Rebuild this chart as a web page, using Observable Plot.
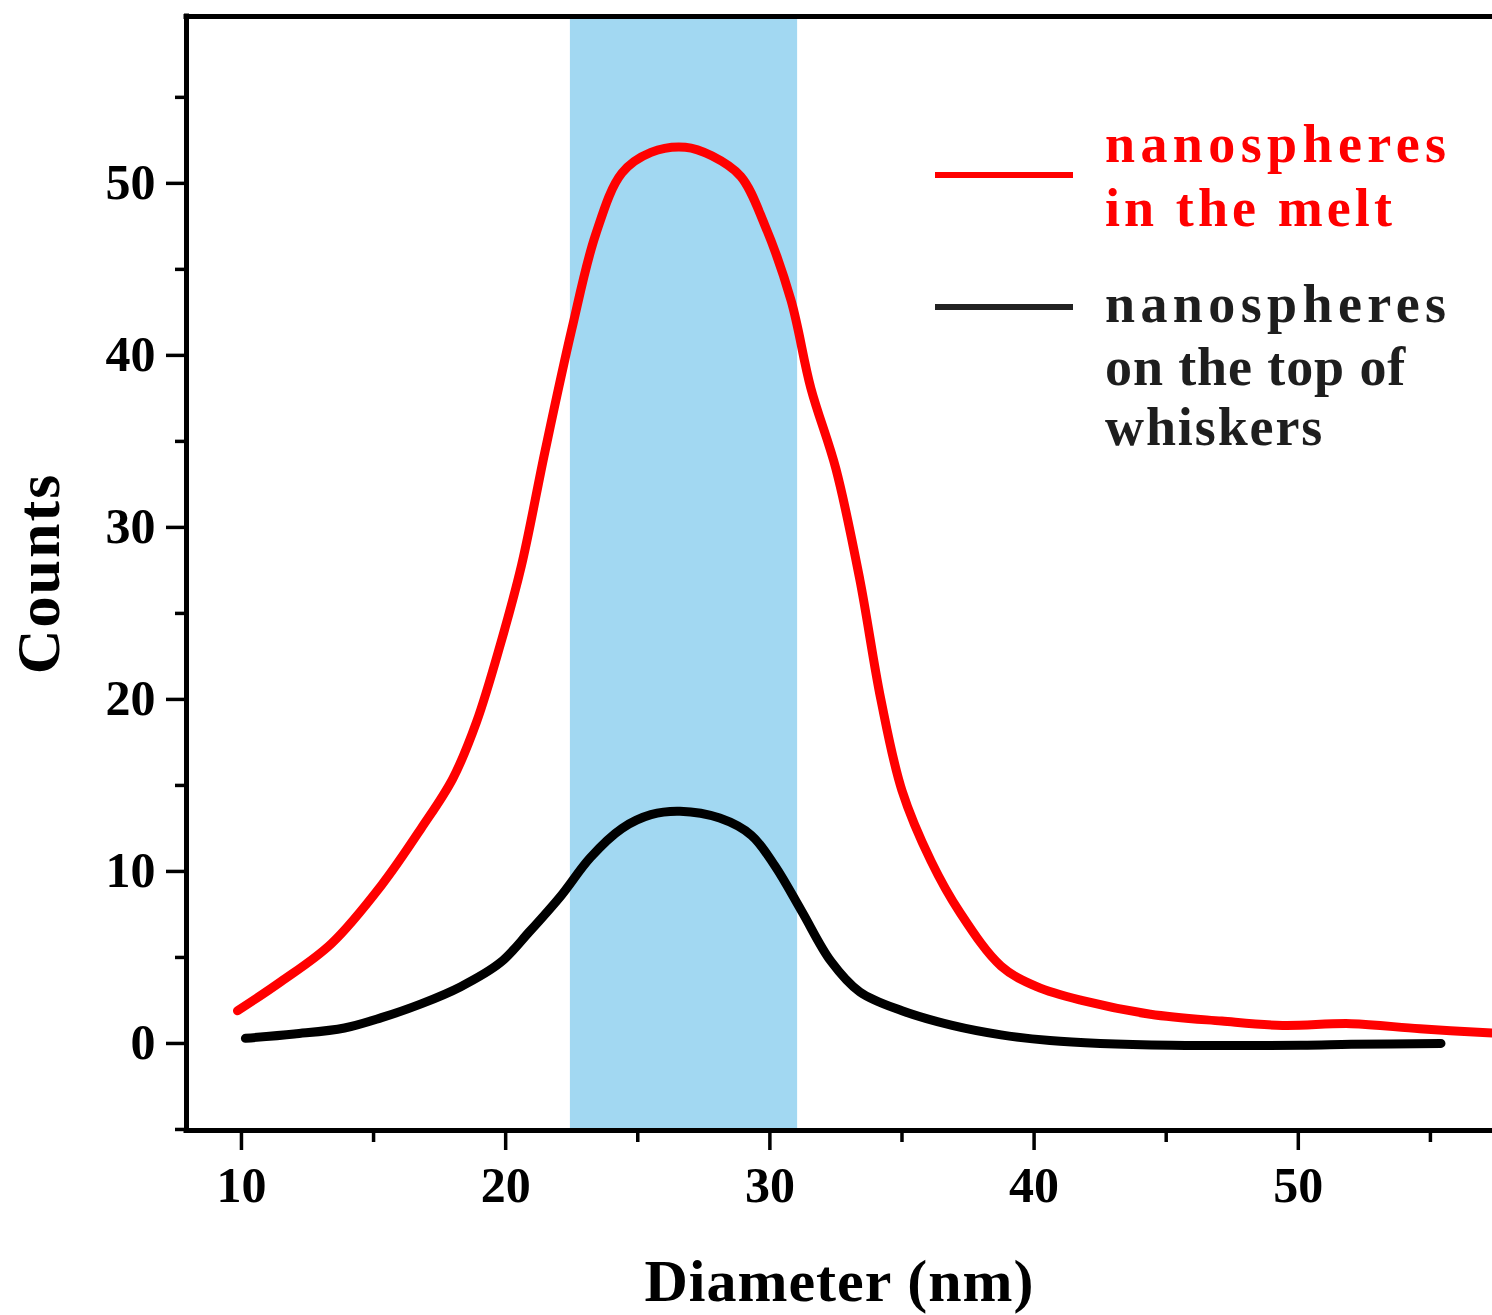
<!DOCTYPE html>
<html>
<head>
<meta charset="utf-8">
<script src="https://cdn.jsdelivr.net/npm/d3@7"></script>
<script src="https://cdn.jsdelivr.net/npm/@observablehq/plot@0.6"></script>
<style>
  html, body { margin: 0; padding: 0; background: #fff; }
  #wrap { position: relative; width: 1492px; height: 1315px; overflow: hidden; }
  #legend { position: absolute; left: 0; top: 0; pointer-events: none; }
</style>
</head>
<body>
<div id="wrap"></div>
<script>
// ---- data ----
const redDiameter = [9.85, 11.5, 13.4, 15.3, 16.8, 18.0, 18.9, 19.8, 20.6, 21.5, 22.5, 23.4, 24.4, 25.5, 26.8, 27.8, 28.9, 29.8, 30.8, 31.55, 32.5, 33.4, 34.2, 35.0, 36.1, 37.2, 38.75, 40.1, 41.8, 44.4, 47.1, 49.4, 52.0, 54.6, 57.4];
const redCounts   = [1.9, 3.6, 5.8, 9.2, 12.5, 15.4, 18.7, 23.2, 27.8, 34.5, 41.5, 47.0, 50.6, 51.8, 52.1, 51.6, 50.4, 47.6, 43.2, 38.1, 33.4, 27.0, 20.0, 14.7, 10.6, 7.6, 4.5, 3.3, 2.5, 1.7, 1.3, 1.05, 1.15, 0.85, 0.6];
const blackDiameter = [10.15, 12.0, 13.9, 15.3, 16.8, 18.3, 19.8, 20.9, 22.1, 23.2, 24.4, 25.5, 26.6, 28.1, 29.3, 30.2, 31.2, 32.3, 33.4, 35.0, 36.9, 38.75, 40.6, 42.5, 45.2, 50.1, 52.0, 55.4];
const blackCounts   = [0.3, 0.55, 0.9, 1.5, 2.3, 3.3, 4.7, 6.5, 8.6, 10.8, 12.5, 13.3, 13.5, 13.1, 12.1, 10.3, 7.7, 4.8, 3.0, 1.9, 1.05, 0.5, 0.17, 0.0, -0.1, -0.1, -0.05, 0.0];
const bandStart = 22.45;
const bandEnd = 31.05;
const xDomain = [7.92, 57.35];
const yDomain = [-5.06, 59.7];
const xMajorTicks = [10, 20, 30, 40, 50];
const xMinorTicks = [15, 25, 35, 45, 55];
const yMajorTicks = [0, 10, 20, 30, 40, 50];
const yMinorTicks = [-5, 5, 15, 25, 35, 45, 55];
const xLabel = "Diameter (nm)";
const yLabel = "Counts";
const legendLines = [
  ["nanospheres", "in the melt"],
  ["nanospheres", "on the top of", "whiskers"]
];
const seriesColors = ["#ff0000", "#000000"];
const legendTextColors = ["#ff0000", "#1e1e1e"];

// ---- build tables ----
const red = redDiameter.map((d, i) => ({x: d, y: redCounts[i]}));
const black = blackDiameter.map((d, i) => ({x: d, y: blackCounts[i]}));
const band = [{x1: bandStart, x2: bandEnd}];

const font = "'Liberation Serif', 'Times New Roman', serif";

const chart = Plot.plot({
  width: 1492,
  height: 1315,
  marginLeft: 186,
  marginRight: 0,
  marginTop: 16,
  marginBottom: 185,
  x: {domain: xDomain},
  y: {domain: yDomain},
  style: {fontFamily: font, fontWeight: "bold", color: "#000", background: "#fff", overflow: "visible"},
  marks: [
    Plot.rect(band, {x1: "x1", x2: "x2", fill: "#a2d8f2"}),
    Plot.line(red, {x: "x", y: "y", stroke: seriesColors[0], strokeWidth: 9, curve: "catmull-rom"}),
    Plot.line(black, {x: "x", y: "y", stroke: seriesColors[1], strokeWidth: 9, curve: "catmull-rom"}),
    Plot.ruleY([yDomain[0], yDomain[1]], {stroke: "#000", strokeWidth: 5, strokeLinecap: "square"}),
    Plot.ruleX([xDomain[0]], {stroke: "#000", strokeWidth: 5, strokeLinecap: "square"}),
    Plot.axisX(xMajorTicks, {tickSize: 20, tickPadding: 16, fontSize: 50, strokeWidth: 3.5, label: null, tickFormat: d => d}),
    Plot.axisX(xMinorTicks, {tickSize: 12, strokeWidth: 3.5, label: null, tickFormat: () => ""}),
    Plot.axisY(yMajorTicks, {tickSize: 20, tickPadding: 11, fontSize: 50, strokeWidth: 3.5, label: null, tickFormat: d => d}),
    Plot.axisY(yMinorTicks, {tickSize: 11, strokeWidth: 3.5, label: null, tickFormat: () => ""}),
    Plot.text([yLabel], {text: d => d, frameAnchor: "left", textAnchor: "middle", lineAnchor: "middle", dx: -147, rotate: -90, fontSize: 62, fontWeight: "bold"}),
    Plot.text([xLabel], {text: d => d, frameAnchor: "bottom", lineAnchor: "middle", dy: 151, fontSize: 60, fontWeight: "bold"})
  ]
});

const wrap = document.getElementById("wrap");
wrap.appendChild(chart);

// letter spacing on axis titles
d3.select(chart).selectAll("text").filter(function() { return this.textContent === xLabel; })
  .style("letter-spacing", "1px");
d3.select(chart).selectAll("text").filter(function() { return this.textContent === yLabel; })
  .style("letter-spacing", "2px");

// ---- legend overlay ----
const legend = d3.select(wrap).append("svg")
  .attr("id", "legend")
  .attr("width", 1492).attr("height", 1315);

const legendSwatchY = [175, 307];
const legendBaselines = [[162, 226], [322, 385, 445]];
const legendSpacing = [[5.4, 4.1], [5.4, 0.9, 1.9]];

legendLines.forEach((lines, i) => {
  legend.append("line")
    .attr("x1", 935).attr("x2", 1073)
    .attr("y1", legendSwatchY[i]).attr("y2", legendSwatchY[i])
    .attr("stroke", i === 0 ? seriesColors[0] : "#222")
    .attr("stroke-width", 6);
  lines.forEach((t, j) => {
    legend.append("text")
      .attr("x", 1105).attr("y", legendBaselines[i][j])
      .attr("fill", legendTextColors[i])
      .attr("font-family", font)
      .attr("font-weight", "bold")
      .attr("font-size", 54)
      .style("letter-spacing", legendSpacing[i][j] + "px")
      .text(t);
  });
});
</script>
</body>
</html>
